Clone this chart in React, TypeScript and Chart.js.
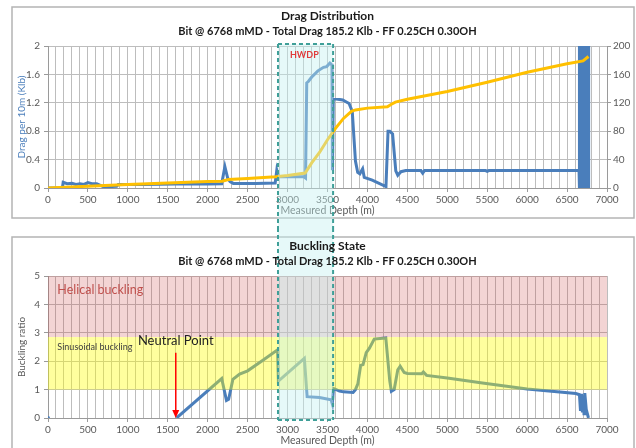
import React, { useEffect, useRef } from 'react';
import { Chart, registerables } from 'chart.js';

Chart.register(...registerables);

const FONT = 'Lato, "Open Sans", "DejaVu Sans", sans-serif';
const W = 636;
const TOP_H = 228;
const BOTTOM_H = 220;

const GRID = '#bdbdbd';
const AXIS = '#9a9a9a';
const TICK = '#595959';
const BLUE = '#4a7ebb';
const GOLD = '#ffc000';

const TITLE_DRAG = 'Drag Distribution';
const TITLE_BUCKLING = 'Buckling State';
const SUBTITLE = 'Bit @ 6768 mMD - Total Drag 185.2 Klb - FF 0.25CH 0.30OH';

// Drag per 10 m of string (Klb) against measured depth (m)
const dragDepth = [
  0, 180, 190, 240, 300, 350, 400, 450, 500, 550, 610, 690, 780, 860, 880, 1200, 1600, 2000,
  2175, 2215, 2250, 2280, 2320, 2600, 2845, 2865, 2885, 3000, 3200, 3225, 3240, 3260, 3300,
  3380, 3450, 3490, 3530, 3550, 3556, 3562, 3572, 3580, 3690, 3770, 3810, 3850, 3878, 3905,
  3940, 3960, 4060, 4232, 4258, 4280, 4315, 4355, 4380, 4420, 4480, 4670, 4692, 4715, 5480,
  5500, 5520, 6650, 6652, 6658, 6664, 6670, 6676, 6682, 6688, 6694, 6700, 6706, 6712, 6718,
  6724, 6730, 6736, 6742, 6748, 6754, 6760, 6766, 6770,
];
const dragPer10m = [
  0, 0, 0.08, 0.06, 0.065, 0.05, 0.06, 0.05, 0.075, 0.06, 0.06, 0.02, 0.02, 0.025, 0.05, 0.05, 0.055, 0.055,
  0.06, 0.3, 0.14, 0.09, 0.065, 0.065, 0.07, 0.25, 0.16, 0.16, 0.16, 0.14, 1.48, 1.5, 1.56,
  1.65, 1.7, 1.71, 1.76, 1.74, 1.75, 0.25, 1.26, 1.26, 1.24, 1.19, 1.08, 0.38, 0.22, 0.2,
  0.27, 0.15, 0.11, 0.02, 0.8, 0.8, 0.76, 0.24, 0.18, 0.23, 0.245, 0.245, 0.21, 0.245, 0.245,
  0.235, 0.245, 0.245, 0, 2.3, 0, 2.3, 0, 2.3, 0, 2.3, 0, 2.3, 0, 2.3, 0, 2.3,
  0, 2.3, 0, 2.3, 0, 2.3, 0, 2.3, 0,
];

// Cumulative drag (Klb)
const cumDepth = [
  0, 500, 1000, 1500, 2000, 2180, 2260, 2500, 2850, 3000, 3220, 3300, 3400, 3500, 3600,
  3700, 3800, 3850, 4000, 4250, 4300, 4350, 4500, 5000, 5500, 6000, 6500, 6700, 6768,
];
const cumDrag = [
  0, 2.5, 5, 7, 9, 9.5, 12, 13.5, 16, 17.5, 21, 35, 50, 68, 84,
  98, 108, 110, 112.5, 114.5, 118, 121, 125, 136, 149, 163, 175, 179, 185.2,
];

// Buckling ratio along the string
const buckDepth = [
  0, 800, 1610, 2175, 2235, 2262, 2315, 2400, 2500, 2700, 2875, 2885, 3210, 3245, 3400,
  3545, 3560, 3575, 3650, 3700, 3820, 3850, 3880, 3915, 3945, 3985, 4025, 4085, 4230, 4280,
  4300, 4335, 4380, 4410, 4460, 4500, 4680, 4700, 4740, 5000, 5440, 6000, 6610, 6655, 6668,
  6680, 6692, 6705, 6712, 6722, 6740, 6768,
];
const buckRatio: (number | null)[] = [
  0, null, 0, 1.39, 0.62, 0.66, 1.36, 1.55, 1.66, 2.05, 2.4, 1.3, 2.1, 0.75, 0.72,
  0.64, 0.5, 1.04, 0.95, 0.92, 0.9, 1.0, 1.2, 1.85, 1.88, 2.3, 2.46, 2.78, 2.82, 1.3,
  0.94, 1.0, 1.7, 1.82, 1.6, 1.57, 1.56, 1.62, 1.5, 1.41, 1.23, 1.02, 0.86, 0.82, 0.25,
  0.85, 0.2, 0.8, 0.15, 0.88, 0.3, 0,
];

// Heavy-weight drill pipe section (m)
const hwdpSection = [2880, 3570];
const hwdpLabelAt = { x: 3210, y: 1.87 };
// Buckling regimes (ratio)
const helicalBand = [2.85, 5];
const sinusoidalBand = [1, 2.85];
const helicalLabelAt = { x: 117, y: 4.52 };
const sinusoidalLabelAt = { x: 117, y: 2.5 };
// Neutral point (m) and its label
const neutralPoint = { x: 1600, yFrom: 2.3, yTo: 0 };
const neutralLabelAt = { x: 1600, y: 2.72 };

const pts = (xs: number[], ys: (number | null)[]) => xs.map((x, i) => ({ x, y: ys[i] }));

function depthScale(height: number, titlePad: number) {
  return {
    type: 'linear',
    min: 0,
    max: 7000,
    afterFit: (s: any) => {
      s.height = height;
    },
    border: { color: AXIS },
    grid: {
      color: GRID,
      tickLength: 4,
      tickColor: (c: any) => (c.tick && c.tick.value % 500 === 0 ? AXIS : 'rgba(0,0,0,0)'),
    },
    ticks: {
      stepSize: 100,
      autoSkip: false,
      maxRotation: 0,
      minRotation: 0,
      padding: 2,
      color: TICK,
      font: { size: 10, family: FONT },
      callback: (v: any) => (Number(v) % 500 === 0 ? String(v) : ''),
    },
    title: {
      display: true,
      text: 'Measured Depth (m)',
      color: TICK,
      font: { size: 10.5, family: FONT },
      padding: { top: 0, bottom: titlePad },
    },
  };
}

function framePlugin(top: number, height: number) {
  return {
    id: 'frame',
    beforeDraw(chart: any) {
      const { ctx } = chart;
      ctx.save();
      ctx.strokeStyle = '#b4b4b4';
      ctx.lineWidth = 1.5;
      ctx.strokeRect(12, top, 622, height);
      ctx.restore();
    },
  };
}

function titlePlugin(y1: number, y2: number, main: string) {
  return {
    id: 'titles',
    afterDraw(chart: any) {
      const { ctx, chartArea } = chart;
      const cx = (chartArea.left + chartArea.right) / 2;
      ctx.save();
      ctx.fillStyle = '#1a1a1a';
      ctx.textAlign = 'center';
      ctx.textBaseline = 'middle';
      ctx.font = `bold 12px ${FONT}`;
      ctx.fillText(main, cx, y1);
      ctx.font = `bold 11px ${FONT}`;
      ctx.fillText(SUBTITLE, cx, y2);
      ctx.restore();
    },
  };
}

function drawHwdp(chart: any, top: number, bottom: number, edge: 'top' | 'bottom') {
  const { ctx } = chart;
  const xs = chart.scales.x;
  const l = xs.getPixelForValue(hwdpSection[0]);
  const r = xs.getPixelForValue(hwdpSection[1]);
  ctx.save();
  ctx.fillStyle = 'rgba(195, 240, 240, 0.42)';
  ctx.fillRect(l, top, r - l, bottom - top);
  ctx.strokeStyle = '#3f9f98';
  ctx.lineWidth = 2;
  ctx.setLineDash([4, 3]);
  ctx.beginPath();
  ctx.moveTo(l, top);
  ctx.lineTo(l, bottom);
  ctx.moveTo(r, top);
  ctx.lineTo(r, bottom);
  if (edge === 'top') {
    ctx.moveTo(l, top);
    ctx.lineTo(r, top);
  } else {
    ctx.moveTo(l, bottom);
    ctx.lineTo(r, bottom);
  }
  ctx.stroke();
  ctx.restore();
}

export default function App() {
  const topRef = useRef<HTMLCanvasElement>(null);
  const bottomRef = useRef<HTMLCanvasElement>(null);

  useEffect(() => {
    Chart.defaults.font.family = FONT;
    Chart.defaults.color = TICK;

    const dragChart = new Chart(topRef.current as HTMLCanvasElement, {
      type: 'line',
      data: {
        datasets: [
          {
            label: 'Cumulative drag',
            data: pts(cumDepth, cumDrag),
            yAxisID: 'y2',
            borderColor: GOLD,
            backgroundColor: GOLD,
            borderWidth: 3,
            pointRadius: 0,
            clip: 0,
          },
          {
            label: 'Drag per 10m',
            data: pts(dragDepth, dragPer10m),
            yAxisID: 'y',
            borderColor: BLUE,
            backgroundColor: BLUE,
            borderWidth: 3,
            pointRadius: 0,
            clip: 0,
          },
        ],
      },
      options: {
        animation: false,
        responsive: false,
        maintainAspectRatio: false,
        layout: { padding: { top: 46, left: 0, right: 0, bottom: 0 } },
        plugins: { legend: { display: false }, tooltip: { enabled: false }, title: { display: false } },
        scales: {
          x: depthScale(40, 10.7) as any,
          y: {
            position: 'left',
            min: 0,
            max: 2,
            afterFit: (s: any) => {
              s.width = 48;
            },
            border: { color: AXIS },
            grid: { color: GRID, tickLength: 4, tickColor: AXIS },
            ticks: {
              stepSize: 0.4,
              padding: 4,
              color: TICK,
              font: { size: 10, family: FONT },
              callback: (v: any) => String(Math.round(Number(v) * 10) / 10),
            },
            title: {
              display: true,
              text: 'Drag per 10m (Klb)',
              color: BLUE,
              font: { size: 10, family: FONT },
              padding: { top: 16, bottom: 0 },
            },
          },
          y2: {
            position: 'right',
            min: 0,
            max: 200,
            afterFit: (s: any) => {
              s.width = 29;
            },
            border: { color: AXIS },
            grid: { drawOnChartArea: false, tickLength: 4, tickColor: AXIS },
            ticks: { stepSize: 40, padding: 2, color: TICK, font: { size: 10, family: FONT } },
          },
        },
      },
      plugins: [
        framePlugin(7, 211),
        {
          id: 'hwdp',
          afterDatasetsDraw(chart: any) {
            drawHwdp(chart, chart.chartArea.top - 2, chart.height, 'top');
            const { ctx } = chart;
            ctx.save();
            ctx.fillStyle = '#e03a3a';
            ctx.font = `bold 9px ${FONT}`;
            ctx.textAlign = 'center';
            ctx.textBaseline = 'middle';
            ctx.fillText(
              'HWDP',
              chart.scales.x.getPixelForValue(hwdpLabelAt.x),
              chart.scales.y.getPixelForValue(hwdpLabelAt.y)
            );
            ctx.restore();
          },
        },
        titlePlugin(16, 31, TITLE_DRAG),
      ],
    } as any);

    const bucklingChart = new Chart(bottomRef.current as HTMLCanvasElement, {
      type: 'line',
      data: {
        datasets: [
          {
            label: 'Buckling ratio',
            data: pts(buckDepth, buckRatio),
            borderColor: BLUE,
            backgroundColor: BLUE,
            borderWidth: 3,
            pointRadius: (c: any) => (c.dataIndex === 0 ? 2 : 0),
            pointBorderWidth: 0,
            spanGaps: false,
            clip: 0,
          },
        ],
      },
      options: {
        animation: false,
        responsive: false,
        maintainAspectRatio: false,
        layout: { padding: { top: 48, left: 0, right: 29, bottom: 0 } },
        plugins: { legend: { display: false }, tooltip: { enabled: false }, title: { display: false } },
        scales: {
          x: depthScale(30, 0.7) as any,
          y: {
            position: 'left',
            min: 0,
            max: 5,
            afterFit: (s: any) => {
              s.width = 48;
            },
            border: { color: AXIS },
            grid: { color: GRID, tickLength: 4, tickColor: AXIS },
            ticks: { stepSize: 1, padding: 4, color: TICK, font: { size: 10, family: FONT } },
            title: {
              display: true,
              text: 'Buckling ratio',
              color: TICK,
              font: { size: 10, family: FONT },
              padding: { top: 16, bottom: 0 },
            },
          },
        },
      },
      plugins: [
        framePlugin(9, 400),
        {
          id: 'regimes',
          afterDatasetsDraw(chart: any) {
            const { ctx, chartArea } = chart;
            const xs = chart.scales.x;
            const ys = chart.scales.y;
            const w = chartArea.right - chartArea.left;
            ctx.save();
            const hTop = ys.getPixelForValue(helicalBand[1]);
            const hBot = ys.getPixelForValue(helicalBand[0]);
            ctx.fillStyle = 'rgba(200, 60, 60, 0.22)';
            ctx.fillRect(chartArea.left, hTop, w, hBot - hTop);
            const sTop = ys.getPixelForValue(sinusoidalBand[1]);
            const sBot = ys.getPixelForValue(sinusoidalBand[0]);
            ctx.fillStyle = 'rgba(255, 255, 0, 0.38)';
            ctx.fillRect(chartArea.left, sTop, w, sBot - sTop);
            ctx.restore();

            drawHwdp(chart, 0, chartArea.bottom + 2, 'bottom');

            ctx.save();
            ctx.textBaseline = 'middle';
            ctx.textAlign = 'left';
            ctx.fillStyle = '#c0504d';
            ctx.font = `12.5px ${FONT}`;
            ctx.fillText('Helical buckling', xs.getPixelForValue(helicalLabelAt.x), ys.getPixelForValue(helicalLabelAt.y));
            ctx.fillStyle = '#404040';
            ctx.font = `9px ${FONT}`;
            ctx.fillText(
              'Sinusoidal buckling',
              xs.getPixelForValue(sinusoidalLabelAt.x),
              ys.getPixelForValue(sinusoidalLabelAt.y)
            );
            ctx.textAlign = 'center';
            ctx.fillStyle = '#222222';
            ctx.font = `13px ${FONT}`;
            ctx.fillText('Neutral Point', xs.getPixelForValue(neutralLabelAt.x), ys.getPixelForValue(neutralLabelAt.y));

            const ax = xs.getPixelForValue(neutralPoint.x);
            const ay1 = ys.getPixelForValue(neutralPoint.yFrom);
            const ay2 = ys.getPixelForValue(neutralPoint.yTo);
            ctx.strokeStyle = '#ff0000';
            ctx.fillStyle = '#ff0000';
            ctx.lineWidth = 1.5;
            ctx.beginPath();
            ctx.moveTo(ax, ay1);
            ctx.lineTo(ax, ay2 - 6);
            ctx.stroke();
            ctx.beginPath();
            ctx.moveTo(ax, ay2);
            ctx.lineTo(ax - 3.5, ay2 - 8);
            ctx.lineTo(ax + 3.5, ay2 - 8);
            ctx.closePath();
            ctx.fill();
            ctx.restore();
          },
        },
        titlePlugin(18, 33, TITLE_BUCKLING),
      ],
    } as any);

    return () => {
      dragChart.destroy();
      bucklingChart.destroy();
    };
  }, []);

  return (
    <div style={{ position: 'fixed', left: 0, top: 0, width: W, height: TOP_H + BOTTOM_H, background: '#ffffff' }}>
      <canvas ref={topRef} width={W} height={TOP_H} style={{ position: 'absolute', left: 0, top: 0, display: 'block' }} />
      <canvas
        ref={bottomRef}
        width={W}
        height={BOTTOM_H}
        style={{ position: 'absolute', left: 0, top: TOP_H, display: 'block' }}
      />
    </div>
  );
}
